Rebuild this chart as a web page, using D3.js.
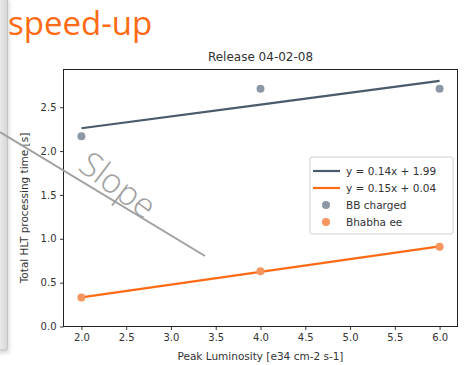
<!DOCTYPE html>
<html>
<head>
<meta charset="utf-8">
<script src="https://cdn.jsdelivr.net/npm/d3@7"></script>
<style>
  html, body { margin: 0; padding: 0; background: #fff; }
  svg { display: block; }
</style>
</head>
<body>
<svg id="chart" width="467" height="365"></svg>
<script>
// Data
const luminosity = [2, 4, 6];
const bbCharged = [2.17, 2.71, 2.71];
const bhabhaEE = [0.33, 0.63, 0.91];
const bbFit = [0.135, 1.99];      // slope, intercept
const bhabhaFit = [0.145, 0.043];
const fitLabels = ['y = 0.14x + 1.99', 'y = 0.15x + 0.04'];
const pointLabels = ['BB charged', 'Bhabha ee'];
const xTicks = [2.0, 2.5, 3.0, 3.5, 4.0, 4.5, 5.0, 5.5, 6.0];
const yTicks = [0.0, 0.5, 1.0, 1.5, 2.0, 2.5];

// Colors
const colors = {
  bbLine: '#4b5a6c',
  bbDot: '#8e97a5',
  eeLine: '#ff6a14',
  eeDot: '#f7955e',
  accent: '#ff6a14',
  note: '#a0a0a0'
};

const svg = d3.select('#chart');
const font = 'DejaVu Sans, sans-serif';

// Panel edge on the left of the slide
const defs = svg.append('defs');
const grad = defs.append('linearGradient').attr('id', 'edge');
grad.append('stop').attr('offset', '0%').attr('stop-color', '#f4f4f4');
grad.append('stop').attr('offset', '100%').attr('stop-color', '#d6d6d6');
const blur = defs.append('filter').attr('id', 'shadow')
  .attr('x', '-50%').attr('y', '-50%').attr('width', '200%').attr('height', '200%');
blur.append('feGaussianBlur').attr('stdDeviation', 2);

svg.append('rect')
  .attr('x', -4).attr('y', 0).attr('width', 13).attr('height', 353)
  .attr('fill', '#bbb').attr('filter', 'url(#shadow)').attr('opacity', 0.6);
svg.append('rect')
  .attr('x', -4).attr('y', -2).attr('width', 11.5).attr('height', 352)
  .attr('rx', 2)
  .attr('fill', 'url(#edge)').attr('stroke', '#c4c4c4').attr('stroke-width', 1);

// Heading
svg.append('text')
  .attr('x', 8).attr('y', 35)
  .attr('font-family', 'Open Sans, sans-serif')
  .attr('font-size', 33)
  .attr('fill', colors.accent)
  .text('speed-up');

// Scales
const x = d3.scaleLinear().domain([1.8, 6.2]).range([63.5, 457.5]);
const y = d3.scaleLinear().domain([0, 2.93]).range([326.5, 69.5]);

// Axes
const xAxis = svg.append('g')
  .attr('transform', `translate(0, ${y(0)})`)
  .call(d3.axisBottom(x).tickValues(xTicks).tickFormat(d3.format('.1f'))
    .tickSize(3.5).tickPadding(3.5));
const yAxis = svg.append('g')
  .attr('transform', `translate(${x(1.8)}, 0)`)
  .call(d3.axisLeft(y).tickValues(yTicks).tickFormat(d3.format('.1f'))
    .tickSize(3.5).tickPadding(3.5));

[xAxis, yAxis].forEach(g => {
  g.select('.domain').remove();
  g.selectAll('line').attr('stroke', '#222').attr('stroke-width', 0.9);
  g.selectAll('text').attr('font-family', font).attr('font-size', 10).attr('fill', '#333');
});

// Frame
svg.append('rect')
  .attr('x', x(1.8)).attr('y', y(2.93))
  .attr('width', x(6.2) - x(1.8)).attr('height', y(0) - y(2.93))
  .attr('fill', 'none').attr('stroke', '#222').attr('stroke-width', 1);

// Title and axis labels
svg.append('text')
  .attr('x', (x(1.8) + x(6.2)) / 2).attr('y', 61)
  .attr('text-anchor', 'middle')
  .attr('font-family', font).attr('font-size', 12).attr('fill', '#333')
  .text('Release 04-02-08');

svg.append('text')
  .attr('x', (x(1.8) + x(6.2)) / 2).attr('y', 360)
  .attr('text-anchor', 'middle')
  .attr('font-family', font).attr('font-size', 10.5).attr('fill', '#333')
  .text('Peak Luminosity [e34 cm-2 s-1]');

svg.append('text')
  .attr('transform', `translate(28, ${(y(0) + y(2.93)) / 2 + 10}) rotate(-90)`)
  .attr('text-anchor', 'middle')
  .attr('font-family', font).attr('font-size', 10.5).attr('fill', '#333')
  .text('Total HLT processing time [s]');

// Fit lines
const series = [
  { fit: bbFit, values: bbCharged, line: colors.bbLine, dot: colors.bbDot },
  { fit: bhabhaFit, values: bhabhaEE, line: colors.eeLine, dot: colors.eeDot }
];

const fitLine = d3.line()
  .x(d => x(d.x))
  .y(d => y(d.y));

series.forEach(s => {
  const pts = luminosity.map(v => ({ x: v, y: s.fit[0] * v + s.fit[1] }));
  svg.append('path')
    .datum(pts)
    .attr('d', fitLine)
    .attr('fill', 'none')
    .attr('stroke', s.line)
    .attr('stroke-width', 2.2);
});

series.forEach(s => {
  svg.append('g').selectAll('circle')
    .data(luminosity.map((v, i) => ({ x: v, y: s.values[i] })))
    .enter()
    .append('circle')
    .attr('cx', d => x(d.x))
    .attr('cy', d => y(d.y))
    .attr('r', 4)
    .attr('fill', s.dot);
});

// Legend
const legend = svg.append('g').attr('transform', 'translate(310, 157)');
legend.append('rect')
  .attr('width', 143).attr('height', 77).attr('rx', 2)
  .attr('fill', '#fff').attr('fill-opacity', 0.85)
  .attr('stroke', '#d0d0d0');

const rows = [
  { label: fitLabels[0], kind: 'line', color: colors.bbLine },
  { label: fitLabels[1], kind: 'line', color: colors.eeLine },
  { label: pointLabels[0], kind: 'dot', color: colors.bbDot },
  { label: pointLabels[1], kind: 'dot', color: colors.eeDot }
];

rows.forEach((r, i) => {
  const cy = 14 + i * 17;
  if (r.kind === 'line') {
    legend.append('line')
      .attr('x1', 3).attr('x2', 30).attr('y1', cy).attr('y2', cy)
      .attr('stroke', r.color).attr('stroke-width', 2.2);
  } else {
    legend.append('circle')
      .attr('cx', 16).attr('cy', cy).attr('r', 4)
      .attr('fill', r.color);
  }
  legend.append('text')
    .attr('x', 36).attr('y', cy).attr('dy', '0.35em')
    .attr('font-family', font).attr('font-size', 10.5).attr('fill', '#333')
    .text(r.label);
});

// Hand-drawn "Slope" note
svg.append('line')
  .attr('x1', 0).attr('y1', 132).attr('x2', 205).attr('y2', 256)
  .attr('stroke', colors.note).attr('stroke-width', 2);

svg.append('text')
  .attr('transform', 'translate(118, 185) rotate(37)')
  .attr('text-anchor', 'middle').attr('dy', '0.35em')
  .attr('font-family', 'Open Sans, sans-serif').attr('font-weight', 300)
  .attr('font-size', 34).attr('fill', colors.note)
  .text('Slope');
</script>
</body>
</html>
